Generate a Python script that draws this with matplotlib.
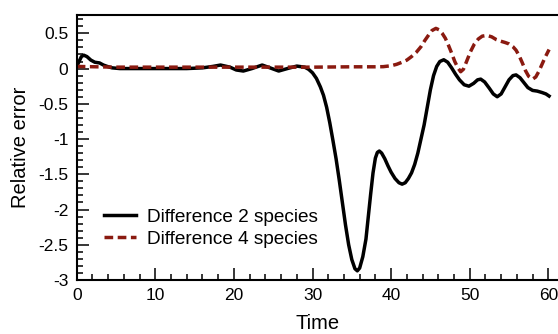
import matplotlib
matplotlib.use("Agg")
import matplotlib.pyplot as plt
from matplotlib.ticker import MultipleLocator

plt.rcParams['font.family'] = ['Liberation Sans', 'DejaVu Sans']

# Difference 2 species
t2 = [0, 0.3, 0.6, 0.9, 1.3, 1.8, 2.3, 2.9, 3.4, 3.9, 4.5, 5.5, 8, 10, 12, 14,
      16, 17.3, 18.3, 19.5, 20.3, 21.2, 22.3, 23.6, 24.6, 25.7, 26.8, 28.0,
      29.0, 29.5, 30.0, 30.5, 31.0, 31.4, 31.8, 32.2, 32.6, 33.0, 33.4, 33.8,
      34.2, 34.6, 35.0, 35.4, 35.7, 36.0, 36.4, 36.8, 37.1, 37.4, 37.7, 38.0,
      38.25, 38.5, 38.8, 39.2, 39.6, 40.0, 40.5, 41.0, 41.4, 41.8, 42.2, 42.6,
      43.0, 43.4, 43.8, 44.2, 44.6, 45.0, 45.4, 45.8, 46.2, 46.7, 47.2, 47.7,
      48.2, 48.7, 49.3, 49.9, 50.5, 51.0, 51.4, 51.9, 52.5, 53.0, 53.5, 54.0,
      54.5, 55.0, 55.5, 55.9, 56.4, 56.9, 57.4, 58.0, 58.6, 59.2, 59.7, 60.1]
err2 = [0.03, 0.1, 0.17, 0.19, 0.17, 0.12, 0.09, 0.08, 0.05, 0.03, 0.01, 0.0,
        0.0, 0.0, 0.0, 0.0, 0.01, 0.03, 0.05, 0.02, -0.02, -0.035, 0.0, 0.05,
        0.01, -0.035, 0.0, 0.035, 0.02, -0.01, -0.06, -0.14, -0.26, -0.38,
        -0.55, -0.77, -1.02, -1.28, -1.58, -1.9, -2.22, -2.5, -2.71, -2.84,
        -2.87, -2.83, -2.67, -2.42, -2.1, -1.78, -1.48, -1.27, -1.19, -1.17,
        -1.2, -1.28, -1.38, -1.47, -1.56, -1.62, -1.64, -1.62, -1.56, -1.48,
        -1.36, -1.2, -1.0, -0.8, -0.55, -0.3, -0.1, 0.03, 0.1, 0.125, 0.09,
        0.01, -0.08, -0.16, -0.23, -0.25, -0.21, -0.16, -0.15, -0.19, -0.28,
        -0.36, -0.40, -0.36, -0.26, -0.16, -0.1, -0.09, -0.13, -0.2, -0.27,
        -0.31, -0.32, -0.34, -0.36, -0.39]

# Difference 4 species
t4 = [0, 5, 10, 15, 20, 25, 30, 35, 38, 39, 40, 40.7, 41.4, 42.0, 42.6, 43.2,
      43.8, 44.3, 44.8, 45.2, 45.7, 46.1, 46.5, 46.9, 47.3, 47.7, 48.1, 48.5,
      48.85, 49.2, 49.6, 50.1, 50.6, 51.1, 51.6, 52.2, 52.8, 53.4, 53.9, 54.5,
      55.0, 55.5, 55.9, 56.3, 56.7, 57.1, 57.5, 58.0, 58.4, 58.8, 59.2, 59.6,
      60.1]
err4 = [0.03, 0.02, 0.02, 0.02, 0.02, 0.02, 0.02, 0.025, 0.025, 0.027, 0.04,
        0.06, 0.09, 0.12, 0.17, 0.23, 0.31, 0.4, 0.48, 0.54, 0.57, 0.55, 0.5,
        0.43, 0.33, 0.22, 0.1, 0.01, -0.045, -0.01, 0.1, 0.24, 0.35, 0.42,
        0.46, 0.47, 0.45, 0.41, 0.39, 0.37, 0.35, 0.31, 0.26, 0.18, 0.08,
        -0.03, -0.11, -0.15, -0.12, -0.04, 0.06, 0.16, 0.27]

fig = plt.figure(figsize=(5.58, 3.34), dpi=100)
ax = fig.add_axes([76.7 / 558, 1 - 280 / 334, 1 - 76.7 / 558, (280 - 15) / 334])

ax.plot(t2, err2, color='black', lw=2.5, solid_joinstyle='round',
        label='Difference 2 species')
ax.plot(t4, err4, color='#8a1a10', lw=2.5, dashes=(2.5, 1.3),
        dash_joinstyle='round', label='Difference 4 species')

ax.set_xlim(0, (558 - 76.7) / 78.6 * 10)
ax.set_ylim(-3, 0.76)
ax.spines['right'].set_visible(False)
for s in ['left', 'bottom', 'top']:
    ax.spines[s].set_linewidth(1.5)

ax.xaxis.set_major_locator(MultipleLocator(10))
ax.xaxis.set_minor_locator(MultipleLocator(2))
ax.yaxis.set_major_locator(MultipleLocator(0.5))
ax.yaxis.set_minor_locator(MultipleLocator(0.1))
ax.yaxis.set_major_formatter(plt.FuncFormatter(lambda v, p: '0' if abs(v) < 1e-9 else f'{v:g}'))
ax.tick_params(which='both', direction='in', width=1.1, labelsize=12.5,
               top=False, right=False)
ax.tick_params(which='major', length=8.5, pad=6)
ax.tick_params(which='minor', length=4.3)

ax.set_xlabel('Time', fontsize=14.5, labelpad=8)
ax.set_ylabel('Relative error', fontsize=14.5, labelpad=6)

ax.legend(loc='upper left', bbox_to_anchor=(104 / 558, 1 - 208.5 / 334),
          bbox_transform=fig.transFigure, frameon=False, fontsize=13.7,
          borderpad=0, borderaxespad=0, handlelength=1.7, handletextpad=0.55,
          labelspacing=0.25)

fig.savefig('out.png', dpi=100)
